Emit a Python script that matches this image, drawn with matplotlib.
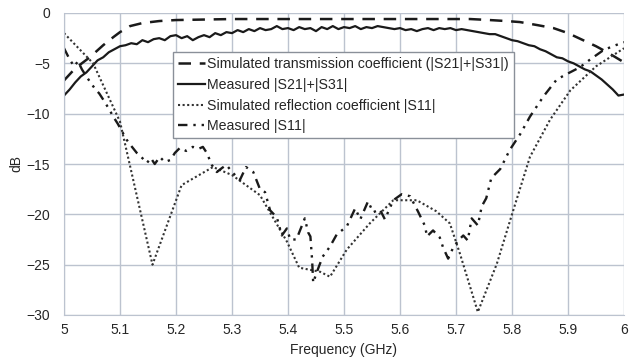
import matplotlib
matplotlib.use("Agg")
import matplotlib.pyplot as plt

# Simulated transmission coefficient (|S21|+|S31|)
f_sim_t = [5.00, 5.02, 5.046, 5.07, 5.088, 5.10, 5.118, 5.14, 5.17, 5.20, 5.30,
           5.40, 5.50, 5.60, 5.70, 5.725, 5.76, 5.79, 5.814, 5.845, 5.874, 5.90,
           5.927, 5.95, 5.97, 6.00]
s_sim_t = [-6.7, -5.5, -4.4, -3.2, -2.4, -1.9, -1.3, -1.0, -0.8, -0.7, -0.6,
           -0.6, -0.6, -0.6, -0.6, -0.6, -0.7, -0.8, -0.9, -1.2, -1.5, -2.0,
           -2.7, -3.3, -3.9, -4.9]

# Measured |S21|+|S31|
f_meas_t = [5.00, 5.01, 5.02, 5.03, 5.04, 5.05, 5.06, 5.07, 5.08, 5.09,
            5.10, 5.11, 5.12, 5.13, 5.14, 5.15, 5.16, 5.17, 5.18, 5.19,
            5.20, 5.21, 5.22, 5.23, 5.24, 5.25, 5.26, 5.27, 5.28, 5.29,
            5.30, 5.31, 5.32, 5.33, 5.34, 5.35, 5.36, 5.37, 5.38, 5.39,
            5.40, 5.41, 5.42, 5.43, 5.44, 5.45, 5.46, 5.47, 5.48, 5.49,
            5.50, 5.51, 5.52, 5.53, 5.54, 5.55, 5.56, 5.57, 5.58, 5.59,
            5.60, 5.61, 5.62, 5.63, 5.64, 5.65, 5.66, 5.67, 5.68, 5.69,
            5.70, 5.71, 5.72, 5.73, 5.74, 5.75, 5.76, 5.77, 5.78, 5.79,
            5.80, 5.81, 5.82, 5.83, 5.84, 5.85, 5.86, 5.87, 5.88, 5.89,
            5.90, 5.91, 5.92, 5.93, 5.94, 5.95, 5.96, 5.97, 5.98, 5.99, 6.00]
s_meas_t = [-8.2, -7.6, -6.9, -6.3, -5.9, -5.3, -4.7, -4.4, -3.9, -3.6,
            -3.3, -3.2, -3.0, -3.1, -2.7, -2.9, -2.6, -2.5, -2.7, -2.3,
            -2.2, -2.5, -2.3, -2.7, -2.4, -2.2, -2.4, -2.0, -2.2, -1.9,
            -2.0, -1.7, -1.9, -1.6, -1.8, -1.5, -1.7, -1.6, -1.3, -1.6,
            -1.5, -1.7, -1.4, -1.6, -1.5, -1.8, -1.4, -1.6, -1.3, -1.6,
            -1.4, -1.5, -1.3, -1.6, -1.4, -1.5, -1.3, -1.4, -1.5, -1.6,
            -1.5, -1.7, -1.6, -1.8, -1.6, -1.5, -1.7, -1.5, -1.6, -1.5,
            -1.7, -1.6, -1.7, -1.8, -1.9, -2.0, -2.1, -2.1, -2.3, -2.5,
            -2.7, -2.8, -3.0, -3.2, -3.3, -3.6, -3.8, -4.1, -4.4, -4.5,
            -4.8, -5.0, -5.3, -5.6, -5.8, -6.2, -6.6, -7.1, -7.6, -8.2, -8.1]

# Simulated reflection coefficient |S11|
f_sim_r = [5.00, 5.052, 5.10, 5.158, 5.21, 5.266, 5.30, 5.35, 5.398, 5.42,
           5.457, 5.475, 5.505, 5.546, 5.588, 5.63, 5.665, 5.689, 5.707, 5.739,
           5.773, 5.80, 5.832, 5.868, 5.904, 5.95, 6.00]
s_sim_r = [-2.0, -5.0, -10.8, -25.0, -17.1, -15.3, -16.1, -18.1, -22.7, -25.3,
           -25.7, -26.2, -23.5, -20.9, -18.6, -18.6, -19.7, -20.9, -23.9, -29.7,
           -24.9, -20.0, -14.3, -10.6, -7.7, -5.3, -3.5]

# Measured |S11|
f_meas_r = [5.000, 5.010, 5.018, 5.025, 5.032, 5.040, 5.046, 5.055, 5.063, 5.070,
            5.080, 5.088, 5.096, 5.104, 5.112, 5.120, 5.130, 5.138, 5.148, 5.155,
            5.162, 5.171, 5.180, 5.190, 5.198, 5.207, 5.218, 5.230, 5.240, 5.248,
            5.255, 5.264, 5.273, 5.282, 5.290, 5.302, 5.314, 5.325, 5.338, 5.350,
            5.359, 5.368, 5.380, 5.389, 5.398, 5.404, 5.415, 5.430, 5.436, 5.440,
            5.443, 5.445, 5.451, 5.462, 5.475, 5.487, 5.505, 5.520, 5.529, 5.543,
            5.552, 5.564, 5.573, 5.588, 5.603, 5.618, 5.632, 5.645, 5.648, 5.659,
            5.671, 5.677, 5.686, 5.695, 5.704, 5.713, 5.721, 5.728, 5.739, 5.746,
            5.754, 5.763, 5.779, 5.796, 5.815, 5.832, 5.856, 5.880, 5.900, 5.921,
            5.940, 5.963, 5.980, 6.000]
s_meas_r = [-3.5, -4.6, -5.3, -4.8, -5.6, -6.3, -6.8, -7.5, -8.0, -8.6,
            -9.5, -10.3, -11.0, -11.8, -12.6, -13.2, -13.9, -14.3, -14.9, -14.4,
            -15.0, -14.3, -14.8, -14.6, -13.9, -13.4, -13.7, -13.3, -13.5, -13.3,
            -13.9, -15.1, -15.8, -15.4, -15.1, -15.9, -16.6, -15.3, -15.8, -17.5,
            -17.8, -19.6, -20.3, -22.1, -21.4, -22.5, -22.5, -20.4, -21.8, -22.2,
            -24.5, -26.8, -25.8, -24.2, -23.2, -22.0, -21.2, -19.4, -20.5, -18.7,
            -19.8, -19.5, -20.5, -18.6, -18.0, -18.2, -19.7, -21.2, -22.2, -21.6,
            -22.3, -23.3, -24.4, -23.3, -22.6, -22.1, -22.6, -20.4, -21.1, -19.2,
            -18.4, -16.4, -15.5, -13.6, -12.0, -10.3, -8.3, -6.6, -6.0, -5.4,
            -4.6, -3.7, -3.3, -2.9]

x_ticks = [5, 5.1, 5.2, 5.3, 5.4, 5.5, 5.6, 5.7, 5.8, 5.9, 6]
x_tick_labels = ["5", "5.1", "5.2", "5.3", "5.4", "5.5", "5.6", "5.7", "5.8", "5.9", "6"]
y_ticks = [-30, -25, -20, -15, -10, -5, 0]

plt.rcParams["font.family"] = ["Liberation Sans", "DejaVu Sans"]
plt.rcParams["font.size"] = 10

GRID = "#bcc3cf"
TXT = "#262626"

fig = plt.figure(figsize=(6.36, 3.64), dpi=100)
ax = fig.add_axes([64 / 636, 49 / 364, 560 / 636, 302 / 364])

ax.plot(f_sim_t, s_sim_t, color="#1a1a1a", linewidth=1.8, dashes=(5, 3.5),
        label="Simulated transmission coefficient (|S21|+|S31|)")
ax.plot(f_meas_t, s_meas_t, color="#1a1a1a", linewidth=1.6,
        label="Measured |S21|+|S31|")
ax.plot(f_sim_r, s_sim_r, color="#333333", linewidth=1.5, dashes=(1, 1.2),
        label="Simulated reflection coefficient |S11|")
ax.plot(f_meas_r, s_meas_r, color="#1a1a1a", linewidth=1.7, dashes=(4, 2.5, 1, 2.5, 1, 2.5),
        label="Measured |S11|")

ax.set_xlim(5, 6)
ax.set_ylim(-30, 0)
ax.set_xticks(x_ticks)
ax.set_xticklabels(x_tick_labels)
ax.set_yticks(y_ticks)
ax.grid(True, color=GRID, linewidth=1.0)
ax.set_axisbelow(True)
for sp in ax.spines.values():
    sp.set_color(GRID)
ax.spines["top"].set_visible(False)
ax.spines["right"].set_visible(False)
ax.tick_params(axis="x", length=0, colors=TXT, labelsize=10, pad=6)
ax.tick_params(axis="y", length=0, colors=TXT, labelsize=10, pad=10)

ax.set_xlabel("Frequency (GHz)", color=TXT, fontsize=10, labelpad=4)
ax.set_ylabel("dB", color=TXT, fontsize=10, labelpad=2)

leg = ax.legend(loc="upper left", bbox_to_anchor=(0.195, 0.871), borderaxespad=0,
                fancybox=False, framealpha=1, edgecolor="#8a9099",
                handlelength=1.9, handletextpad=0.15, labelspacing=0.48,
                borderpad=0.35, fontsize=10.2)
leg.get_frame().set_linewidth(1.0)
for t in leg.get_texts():
    t.set_color(TXT)

fig.savefig("out.png", dpi=100)
